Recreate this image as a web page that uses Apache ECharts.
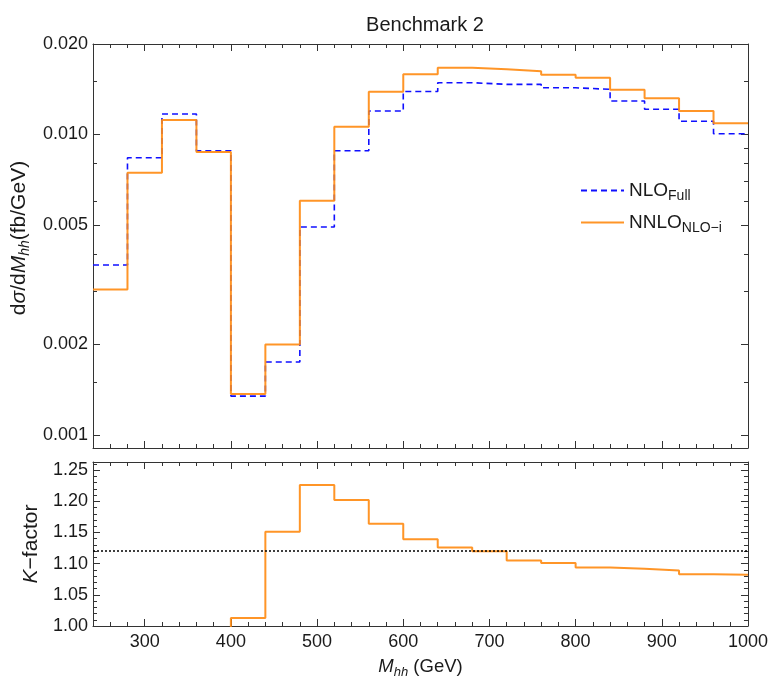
<!DOCTYPE html>
<html>
<head>
<meta charset="utf-8">
<title>Benchmark 2</title>
<script src="https://cdn.jsdelivr.net/npm/echarts@6/dist/echarts.min.js"></script>
<style>
  html, body { margin: 0; padding: 0; background: #ffffff; }
  #chart { width: 771px; height: 686px; }
</style>
</head>
<body>
<div id="chart"></div>
<script>
// 40 GeV bins in M_hh, lower edges; the last bin closes at binEnd
const binLow = [240, 280, 320, 360, 400, 440, 480, 520, 560, 600, 640, 680, 720, 760, 800, 840, 880, 920, 960];
const binEnd = 1000;

// dσ/dM_hh in fb/GeV
const nloFull  = [0.00368, 0.00837, 0.0117, 0.00883, 0.001347, 0.00175, 0.00492, 0.00883, 0.01197, 0.0139,
                  0.01487, 0.01468, 0.01468, 0.0143, 0.01413, 0.01292, 0.01213, 0.01106, 0.01006];
const nnloNLOi = [0.00305, 0.00746, 0.01117, 0.00874, 0.001368, 0.002, 0.00602, 0.01061, 0.01388, 0.01585,
                  0.01668, 0.01647, 0.01622, 0.01581, 0.01545, 0.01409, 0.01319, 0.01197, 0.01089];

// K-factor per bin and the inclusive value
const kFactor = [0.83, 0.89, 0.955, 0.99, 1.013, 1.151, 1.226, 1.202, 1.164, 1.139,
                 1.126, 1.12, 1.105, 1.101, 1.094, 1.092, 1.089, 1.083, 1.082];
const kAverage = 1.119;

// tick positions
const xMajorTicks = [300, 400, 500, 600, 700, 800, 900, 1000];
const xMinorStep = 20;
const sigmaTicks = [0.001, 0.002, 0.005, 0.010, 0.020];
const sigmaMinorLeft = [0.0015, 0.003, 0.004, 0.006, 0.008, 0.015];
const sigmaMinorRight = [0.0015, 0.003, 0.004, 0.006, 0.007, 0.008, 0.009, 0.015];
const kTicks = [1.00, 1.05, 1.10, 1.15, 1.20, 1.25];
const kMinorStep = 0.01;

const FONT = "'Liberation Sans', Arial, Helvetica, sans-serif";
const FRAME = '#333333';
const TEXT = '#1a1a1a';
const X_MIN = 240, X_MAX = 1000;
const SIGMA_MIN = 0.000905, SIGMA_MAX = 0.020;
const K_MIN = 1.0, K_MAX = 1.263;
const TICK_FONT = 18;

function range(from, to, step) {
  const out = [];
  const n = Math.round((to - from) / step);
  for (let i = 0; i <= n; i++) out.push(+(from + i * step).toFixed(6));
  return out;
}
const xMinorTicks = range(X_MIN, X_MAX, xMinorStep);
const kMinorTicks = range(K_MIN, 1.26, kMinorStep);

// histogram outline as step points: each bin starts at its lower edge,
// the last value is repeated at the closing edge
function histogram(values) {
  const pts = binLow.map((x, i) => [x, values[i]]);
  pts.push([binEnd, values[values.length - 1]]);
  return pts;
}

function xAxisDef(grid, position, ticks, len, showLine, withLabels) {
  return {
    type: 'value', gridIndex: grid, position: position, min: X_MIN, max: X_MAX,
    axisLine: { show: showLine, onZero: false, lineStyle: { color: FRAME, width: 1 } },
    axisTick: { show: true, inside: true, length: len, customValues: ticks,
                lineStyle: { color: FRAME, width: 1 } },
    axisLabel: withLabels
      ? { show: true, customValues: ticks, margin: 7, color: TEXT, fontSize: TICK_FONT, fontFamily: FONT,
          formatter: v => String(v) }
      : { show: false },
    splitLine: { show: false }
  };
}

function yAxisDef(grid, type, position, min, max, ticks, len, showLine, labelFmt) {
  return {
    type: type, gridIndex: grid, position: position, min: min, max: max,
    axisLine: { show: showLine, onZero: false, lineStyle: { color: FRAME, width: 1 } },
    axisTick: { show: true, inside: true, length: len, customValues: ticks,
                lineStyle: { color: FRAME, width: 1 } },
    axisLabel: labelFmt
      ? { show: true, customValues: ticks, margin: 5, color: TEXT, fontSize: TICK_FONT, fontFamily: FONT,
          formatter: labelFmt }
      : { show: false },
    splitLine: { show: false }
  };
}

function titleRich(main, sub, drop) {
  return {
    r: { fontSize: main, fontFamily: FONT, color: TEXT },
    i: { fontSize: main, fontFamily: FONT, color: TEXT, fontStyle: 'italic' },
    s: { fontSize: sub, fontFamily: FONT, color: TEXT, fontStyle: 'italic', padding: [drop, 0, 0, 0] }
  };
}

const xAxes = [
  // upper panel
  xAxisDef(0, 'bottom', xMajorTicks, 7, true, false),
  xAxisDef(0, 'bottom', xMinorTicks, 4, false, false),
  xAxisDef(0, 'top', xMajorTicks, 7, true, false),
  xAxisDef(0, 'top', xMinorTicks, 4, false, false),
  // ratio panel
  Object.assign(xAxisDef(1, 'bottom', xMajorTicks, 7, true, true), {
    name: '{i|M}{s|hh}{r| (GeV)}', nameLocation: 'middle', nameGap: 29,
    nameTextStyle: { rich: titleRich(18.5, 13, 11) }
  }),
  xAxisDef(1, 'bottom', xMinorTicks, 4, false, false),
  xAxisDef(1, 'top', xMajorTicks, 7, true, false),
  xAxisDef(1, 'top', xMinorTicks, 4, false, false)
];

const yAxes = [
  Object.assign(yAxisDef(0, 'log', 'left', SIGMA_MIN, SIGMA_MAX, sigmaTicks, 7, true, v => v.toFixed(3)), {
    name: '{r|d}{i|σ}{r|/d}{i|M}{s|hh}{r|(fb/GeV)}', nameLocation: 'middle', nameGap: 50, nameRotate: 90,
    nameTextStyle: { rich: titleRich(21, 14, 12), padding: [0, 0, 0, 16] }
  }),
  yAxisDef(0, 'log', 'left', SIGMA_MIN, SIGMA_MAX, sigmaMinorLeft, 4, false, null),
  yAxisDef(0, 'log', 'right', SIGMA_MIN, SIGMA_MAX, sigmaTicks, 7, true, null),
  yAxisDef(0, 'log', 'right', SIGMA_MIN, SIGMA_MAX, sigmaMinorRight, 4, false, null),
  Object.assign(yAxisDef(1, 'value', 'left', K_MIN, K_MAX, kTicks, 7, true, v => v.toFixed(2)), {
    name: '{i|K}{r|−factor}', nameLocation: 'middle', nameGap: 45, nameRotate: 90,
    nameTextStyle: { rich: titleRich(21, 14, 12) }
  }),
  yAxisDef(1, 'value', 'left', K_MIN, K_MAX, kMinorTicks, 4, false, null),
  yAxisDef(1, 'value', 'right', K_MIN, K_MAX, kTicks, 7, true, null),
  yAxisDef(1, 'value', 'right', K_MIN, K_MAX, kMinorTicks, 4, false, null)
];

const BLUE = '#1010ff';
const ORANGE = '#ff8a10';

const option = {
  animation: false,
  backgroundColor: '#ffffff',
  textStyle: { fontFamily: FONT },
  title: {
    text: 'Benchmark 2', left: 420, top: 10, textAlign: 'center',
    textStyle: { fontSize: 20, fontWeight: 'normal', color: TEXT, fontFamily: FONT }
  },
  legend: {
    orient: 'vertical', left: 575, top: 176, itemWidth: 43, itemHeight: 14, itemGap: 10,
    selectedMode: false,
    itemStyle: { opacity: 0 },
    data: ['NLO Full', 'NNLO NLO-i'],
    formatter: name => name === 'NLO Full' ? '{m|NLO}{u|Full}' : '{m|NNLO}{u|NLO−i}',
    textStyle: {
      rich: {
        m: { fontSize: 19, fontFamily: FONT, color: TEXT },
        u: { fontSize: 14, fontFamily: FONT, color: TEXT, padding: [11, 0, 0, 0] }
      }
    }
  },
  grid: [
    { left: 93, top: 44, width: 655, height: 404 },
    { left: 93, top: 462, width: 655, height: 164 }
  ],
  xAxis: xAxes,
  yAxis: yAxes,
  series: [
    {
      name: 'NLO Full', type: 'line', step: 'end', xAxisIndex: 0, yAxisIndex: 0,
      data: histogram(nloFull), symbol: 'none', clip: true,
      lineStyle: { color: BLUE, width: 1.6, type: [6, 4] },
      itemStyle: { color: BLUE }, z: 3
    },
    {
      name: 'NNLO NLO-i', type: 'line', step: 'end', xAxisIndex: 0, yAxisIndex: 0,
      data: histogram(nnloNLOi), symbol: 'none', clip: true,
      lineStyle: { color: ORANGE, width: 2, opacity: 0.9 },
      itemStyle: { color: ORANGE }, z: 4
    },
    {
      name: 'K-factor', type: 'line', step: 'end', xAxisIndex: 4, yAxisIndex: 4,
      data: histogram(kFactor), symbol: 'none', clip: true,
      lineStyle: { color: ORANGE, width: 2, opacity: 0.9 },
      itemStyle: { color: ORANGE }, z: 4,
      markLine: {
        silent: true, symbol: 'none', label: { show: false },
        lineStyle: { color: '#000000', width: 1.5, type: [2, 2] },
        data: [{ yAxis: kAverage }]
      }
    }
  ]
};

const chart = echarts.init(document.getElementById('chart'), null, { renderer: 'canvas' });
chart.setOption(option);
</script>
</body>
</html>
